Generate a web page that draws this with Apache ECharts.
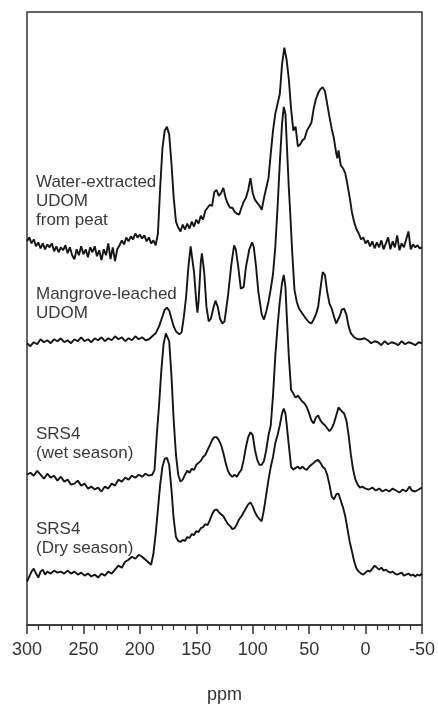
<!DOCTYPE html>
<html><head><meta charset="utf-8">
<script src="https://cdn.jsdelivr.net/npm/echarts@6/dist/echarts.min.js"></script>
<style>html,body{margin:0;padding:0;background:#fff}#c{width:438px;height:709px}</style>
</head><body><div id="c"></div>
<script>
// Trace names
const traceNames = ["Water-extracted\nUDOM\nfrom peat", "Mangrove-leached\nUDOM", "SRS4\n(wet season)", "SRS4\n(Dry season)"];
// Vertical stacking offsets of each trace baseline (arbitrary intensity units)
const offsets = [382, 285, 145, 52];
const xTicks = [300, 250, 200, 150, 100, 50, 0, -50];

// Trace 1: Water-extracted UDOM from peat
const ppm1 = [300,298,296,294,292,290,288,286,284,282,280,278,276,274,272,270,268,266,264,262,260,258,256,254,252,250,248,246,244,242,240,238,236,234,232,230,228,226,224,222,220,218,216,214,212,210,208,206,204,202,200,198,196,194,192,190,188,186,184,182,180,178,176,174,172,170,168,166,164,162,160,158,156,154,152,150,148,146,144,142,140,138,136,134,132,130,128,126,124,122,120,118,116,114,112,110,108,106,104,102,100,98,96,94,92,90,88,86,84,82,80,78,76,74,72,70,68,66,64,62,60,58,56,54,52,50,48,46,44,42,40,38,36,34,32,30,28,26,25,24,22,20,18,16,14,12,10,8,6,4,2,0,-2,-4,-6,-8,-10,-12,-14,-16,-18,-20,-22,-24,-26,-28,-30,-32,-34,-36,-38,-40,-42,-44,-46,-48,-50];
const int1 = [6,10,4,8,1,5,-1,4,-2,3,0,4,-4,1,-5,0,-3,2,-6,0,-8,-12,-2,-8,1,-7,-2,-10,0,-5,1,-9,-3,-13,-2,-8,4,-12,0,-14,-2,2,7,3,10,6,11,8,14,10,13,9,12,6,10,4,7,2,14,60,100,118,122,114,85,50,26,20,16,23,18,24,19,26,21,28,24,32,28,37,40,43,42,56,58,52,55,60,50,44,40,40,36,34,33,40,46,50,58,70,55,48,45,42,38,50,60,70,95,118,135,145,155,185,202,190,170,140,118,122,102,104,108,110,118,122,126,140,150,156,160,162,158,145,132,120,110,95,90,98,83,80,75,63,50,35,25,18,14,8,10,4,7,1,6,-1,5,0,7,-2,4,10,-2,6,0,12,-3,4,0,8,16,-2,3,0,2,-1,0];

// Trace 2: Mangrove-leached UDOM
const ppm2 = [300,297,294,291,288,285,282,279,276,273,270,267,264,261,258,255,252,249,246,243,240,237,234,231,228,225,222,219,216,213,210,207,204,201,198,195,192,189,186,183,180,178,176,174,172,170,168,165,163,161,159,157,155,154,152,150,149,148,146,145,143,141,139,137,135,133,131,129,127,125,122,119,116.5,115,113,110.5,108,106,103,100.5,99,97,95,92,90,88,86,84,82,80,78,76,74,72.5,71,70,68,67,65,63,61,59,56,53,50,48,46,44,42,40,38,37,36,34,32,30,28,26,25,23,21,19,17,15,13,10,7,4,1,-2,-5,-8,-11,-14,-17,-20,-23,-26,-29,-32,-35,-38,-41,-44,-47,-50];
const int2 = [0,-3,1,-1,4,1,3,0,4,2,5,1,3,0,4,2,6,2,4,1,5,3,6,2,5,3,7,4,6,2,5,3,7,4,6,3,4,7,10,17,27,34,36,33,25,17,12,9,11,27,47,77,98,97,72,42,31,42,82,91,72,37,22,25,35,43,37,25,20,22,47,79,99,95,79,55,57,77,95,102,97,77,52,29,24,32,42,55,70,97,137,182,222,239,232,207,157,137,92,54,42,35,30,25,21,20,24,29,37,55,72,74,69,52,40,35,27,20,19,27,34,35,29,17,10,6,4,4,5,3,0,2,1,-2,2,-1,1,0,-2,2,-1,1,0,-2,1,0];

// Trace 3: SRS4 (wet season)
const ppm3 = [300,297,294,291,288,285,282,279,276,273,270,267,264,261,258,255,252,249,246,243,240,237,234,231,228,225,222,219,216,213,210,207,204,201,198,195,192,189,187,185,184,183,181,179,177,175.5,174,172,170,168,166,164,162,160,158,156,154,152,150,148,146,144,142,140,138,136,134,132,130,128,126,124,122,120,118,116,114,112,110,108,106,104,102,100,98,96,94,92,90,88,86,84,82,80,78,76,74,72.5,71,70,68,66,64,62,60,58,56,54,52,50,48,46,44,42,40,38,36,34,32,30,28,26,24,23,21,19,17,15,13,11,9,7,5,3,0,-3,-6,-9,-12,-15,-18,-21,-24,-27,-30,-33,-36,-39,-41,-44,-47,-50];
const int3 = [7,9,6,11,7,3,8,4,6,1,5,0,2,-3,-2,1,-4,-2,-7,-5,-8,-6,-10,-5,-7,-2,-4,2,0,4,2,6,4,7,5,8,6,7,12,47,62,77,112,139,150,152,142,107,62,27,7,0,2,7,11,9,13,12,17,19,21,25,27,32,37,42,45,45,42,37,29,19,11,7,5,7,5,9,12,22,35,45,50,47,32,22,17,17,21,32,47,57,87,127,157,182,201,209,197,172,127,93,89,85,87,84,81,79,75,69,62,59,65,67,62,59,57,54,51,54,59,67,75,77,71,69,62,47,27,12,2,-3,-6,-5,-7,-8,-6,-9,-7,-10,-8,-10,-7,-9,-11,-8,-10,-5,-9,-10,-8,-6];

// Trace 4: SRS4 (Dry season)
const ppm4 = [300,298,296,294,292,290,288,286,284,282,279,276,273,270,267,264,261,258,255,252,249,246,243,240,237,234,231,228,225,222,219,216,213,210,207,204,201,198,195,192,190,188,186,184,182,180,178,176,174,172,170,168,166,164,162,160,158,156,154,152,150,148,146,144,142,140,138,136,134,132,130,128,126,124,122,120,118,116,114,112,110,108,106,104,102,100,98,96,94,92,90,88,86,84,82,80,78,76,74,72.5,71,70,68,66,64,62,60,58,56,54,52,50,48,46,44,42,40,38,36,34,32,30,28,26,24,22,20,18,16,14,12,10,8,6,4,2,0,-2,-4,-6,-8,-10,-12,-14,-16,-18,-20,-22,-24,-26,-28,-30,-32,-34,-36,-38,-40,-42,-44,-46,-48,-50];
const int4 = [-8,-3,2,5,0,-4,2,4,-1,2,0,3,1,2,0,3,0,2,-1,1,-2,0,-3,-1,-4,0,-2,2,0,4,8,6,12,14,17,15,19,17,14,11,9,20,40,65,90,108,116,117,110,85,55,37,33,32,34,33,37,36,40,39,43,42,46,47,50,49,54,60,64,65,62,60,58,54,50,48,45,46,50,55,58,62,66,70,72,68,62,58,55,53,65,80,95,108,118,132,140,150,162,167,162,152,130,108,105,107,108,106,108,106,105,108,110,112,114,115,112,108,106,100,90,78,75,80,81,74,67,58,45,32,22,12,5,2,0,-1,1,3,2,5,8,6,4,6,3,4,2,1,2,0,-1,0,1,-2,-1,0,-2,-1,-3,-1,-2,0];

const ppms = [ppm1, ppm2, ppm3, ppm4];
const ints = [int1, int2, int3, int4];

const chart = echarts.init(document.getElementById('c'), null, {renderer: 'canvas'});
const FONT = '"Liberation Sans", Arial, sans-serif';

const series = ppms.map((p, i) => ({
  type: 'line',
  name: traceNames[i],
  data: p.map((x, j) => [x, ints[i][j] + offsets[i]]),
  showSymbol: false,
  symbol: 'none',
  lineStyle: {color: '#151515', width: 1.9},
  silent: true,
  animation: false,
  z: 3
}));

const labelTops = [173, 285, 425, 520];
const graphic = traceNames.map((t, i) => ({
  type: 'text',
  left: 36,
  top: labelTops[i],
  style: {text: t, font: '17px ' + FONT, fill: '#3a3a3a', lineHeight: 19},
  z: 10
}));

chart.setOption({
  animation: false,
  grid: {left: 27, right: 14, top: 12, bottom: 77, show: true, borderColor: '#333', borderWidth: 1.5, backgroundColor: 'transparent'},
  xAxis: {
    type: 'value', min: -50, max: 300, interval: 50, inverse: true,
    name: 'ppm', nameLocation: 'middle', nameGap: 61,
    nameTextStyle: {fontSize: 18, color: '#333', fontFamily: FONT},
    axisLine: {show: true, lineStyle: {color: '#333', width: 1.5}},
    axisTick: {show: true, length: 9, lineStyle: {color: '#333', width: 1.5}},
    minorTick: {show: true, splitNumber: 5, length: 5, lineStyle: {color: '#333', width: 1.2}},
    splitLine: {show: false},
    axisLabel: {fontSize: 18, color: '#333', fontFamily: FONT, margin: 16,
      formatter: v => xTicks.includes(v) ? String(v) : ''}
  },
  yAxis: {type: 'value', min: 0, max: 620, show: false, splitLine: {show: false}},
  series: series,
  graphic: graphic
});
</script></body></html>
